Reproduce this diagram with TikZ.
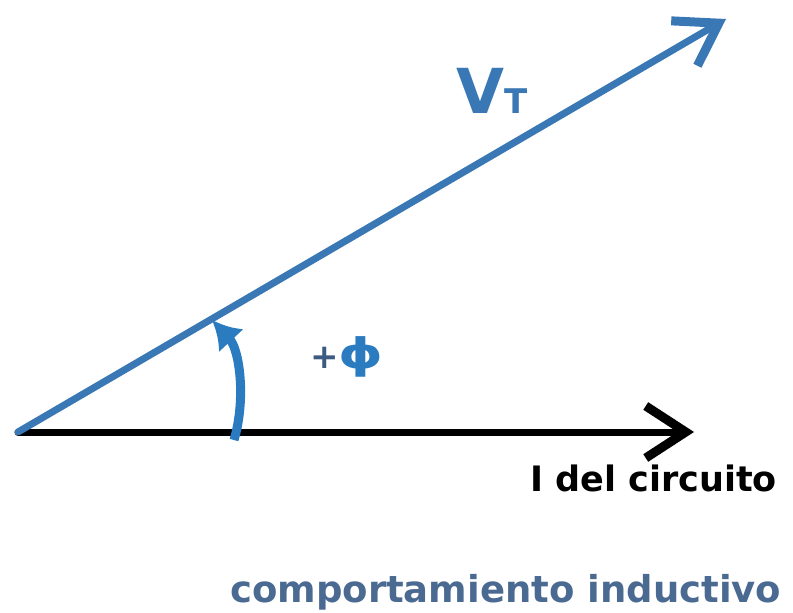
\documentclass[tikz,border=0pt]{standalone}
\usepackage{fontspec}
\setmainfont{DejaVu Sans}
\usetikzlibrary{arrows.meta}
\definecolor{vblue}{HTML}{3A78B5}
\definecolor{arcblue}{HTML}{2B7BC0}
\definecolor{slate}{HTML}{4A6A92}
\definecolor{plusgray}{HTML}{3D5A80}
\tikzset{
    phasor/.style={line width=7pt, line cap=round,
                   -{Straight Barb[length=40pt, width=52pt, line width=9pt]}},
    current/.style={phasor, draw=black},
    voltage/.style={phasor, draw=vblue},
    angle/.style={line width=9pt, draw=arcblue,
                  -{Latex[length=28pt, width=34pt]}},
    note/.style={font=\bfseries, inner sep=0pt},
}
\begin{document}
\begin{tikzpicture}[x=1pt, y=-1pt]
    \useasboundingbox (0,0) rectangle (793,613);

    \coordinate (origin) at (18,432);
    \coordinate (itip) at (694,432);
    \coordinate (vtip) at (726,19);
    \coordinate (astart) at (234,440);
    \coordinate (aend) at (212,320);

    \draw[current] (origin) -- (itip);
    \draw[voltage] (origin) -- (vtip);
    \draw[angle] (astart) .. controls (246,400) and (240,350) .. (aend);

    \node[note, anchor=base west, text=vblue] (vt) at (456,113)
        {\fontsize{62}{62}\selectfont V\fontsize{34}{34}\selectfont T};
    \node[note, anchor=west] (phi) at (310,357)
        {\fontsize{34}{34}\selectfont\textcolor{plusgray}{+}\fontsize{42}{42}\selectfont\textcolor{arcblue}{\scalebox{1.35}[1]{ϕ}}};
    \node[note, anchor=base west] (icirc) at (530,491)
        {\fontsize{35}{35}\selectfont I del circuito};
    \node[note, anchor=base west, text=slate] (modo) at (230,602)
        {\fontsize{37}{37}\selectfont comportamiento inductivo};

\end{tikzpicture}
\end{document}
